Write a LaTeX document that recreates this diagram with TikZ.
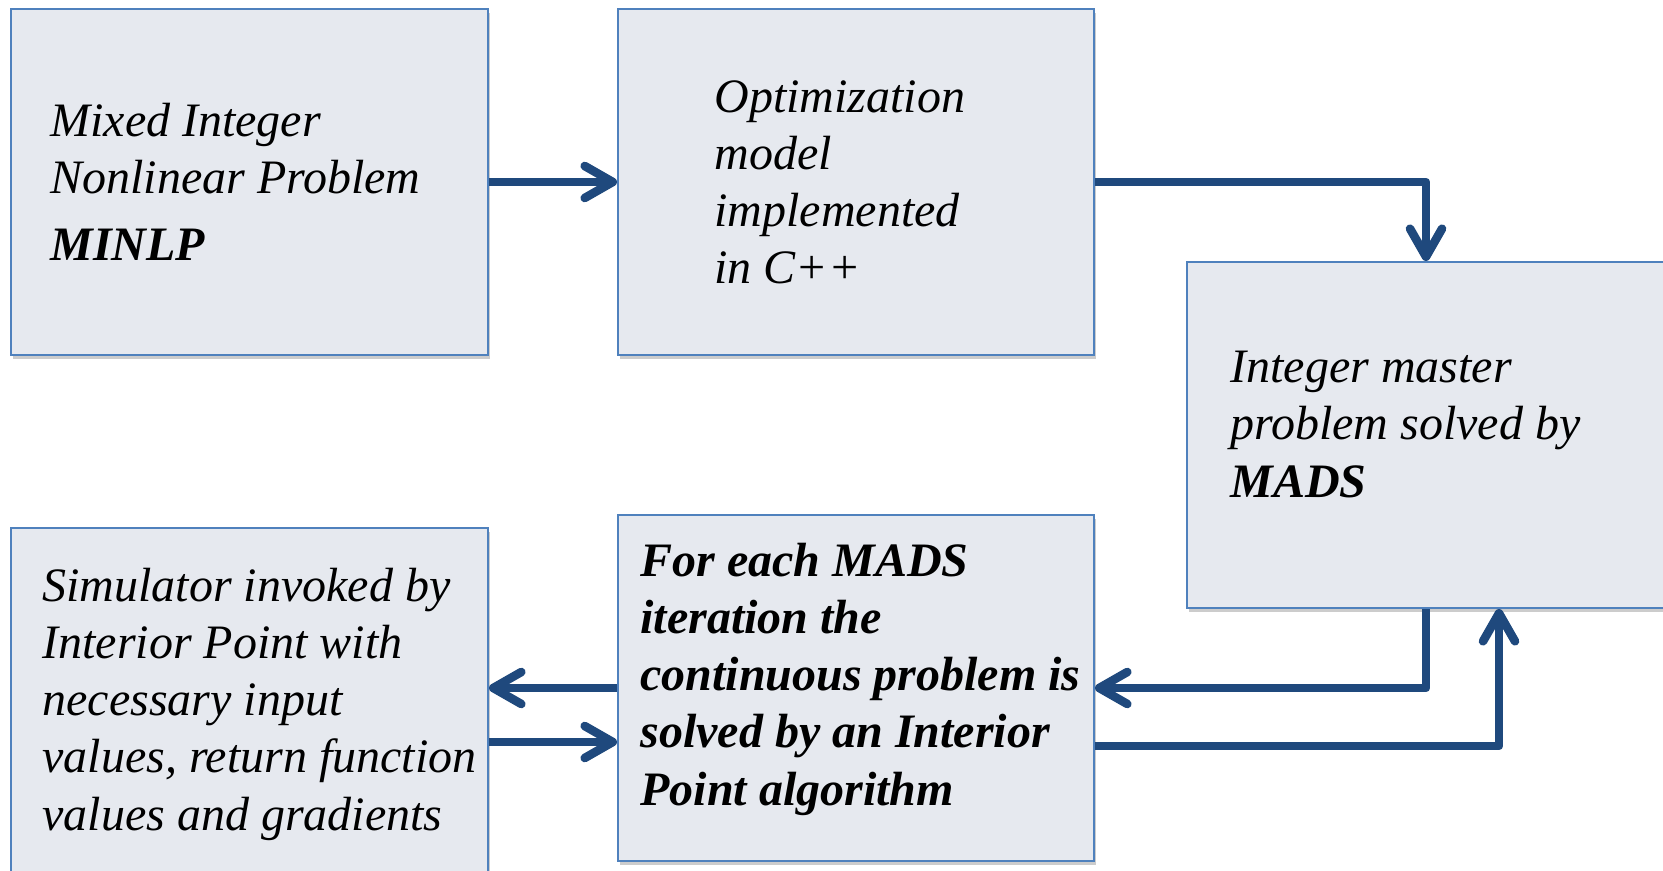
\documentclass[tikz,border=0pt]{standalone}
\usepackage{fontspec}
\setmainfont{Liberation Serif}
\usetikzlibrary{arrows.meta,shadows,calc}
\definecolor{arrowblue}{RGB}{31,73,125}
\definecolor{boxfill}{RGB}{230,233,239}
\definecolor{boxline}{RGB}{79,129,189}
\begin{document}
\begin{tikzpicture}[x=0.5pt,y=-0.5pt,
  box/.style={draw=boxline, line width=1pt, fill=boxfill, inner sep=0pt,
    drop shadow={shadow xshift=1pt, shadow yshift=-2pt, opacity=0.2, fill=black}},
  txt/.style={anchor=base west, align=left, inner sep=0pt,
    font=\fontsize{24}{28.6}\selectfont\itshape},
  flow/.style={draw=arrowblue, line width=4.3pt, line join=round,
    -{Straight Barb[length=14pt,width=16pt,line cap=round,line join=round]}}
]
\useasboundingbox (0,0) rectangle (1663,871);
\fill[white] (0,0) rectangle (1663,871);
% boxes
\node[box, minimum width=238.5pt, minimum height=173pt] (A) at (249.5,182) {};
\node[box, minimum width=238pt, minimum height=173pt] (B) at (856,182) {};
\node[box, minimum width=239pt, minimum height=173pt] (C) at (1426,435) {};
\node[box, minimum width=238.5pt, minimum height=181pt] (D) at (249.5,709) {};
\node[box, minimum width=238pt, minimum height=173pt] (E) at (856,688) {};
% texts (anchored at the baseline of the last line)
\node[txt] (ta) at (50,261) {Mixed Integer\\Nonlinear Problem\\[5pt]\textbf{MINLP}};
\node[txt] (tb) at (714,284) {Optimization\\model\\implemented\\in C++};
\node[txt] (tc) at (1230,497) {Integer master\\problem solved by\\\textbf{MADS}};
\node[txt] (td) at (42,830) {Simulator invoked by\\Interior Point with\\necessary input\\values, return function\\values and gradients};
\node[txt, font=\fontsize{24}{28.6}\selectfont\bfseries\itshape] (te) at (640,805)
  {For each MADS\\iteration the\\continuous problem is\\solved by an Interior\\Point algorithm};
% connectors
\draw[flow] (A.east) -- (B.west);
\draw[flow] (B.east) -| (C.north);
\draw[flow] (C.south) |- (E.east);
\draw[flow] ($(E.east)+(0,58)$) -| ($(C.south)+(73,0)$);
\draw[flow] (E.west) -- ($(D.east)+(0,-21)$);
\draw[flow] ($(D.east)+(0,33)$) -- ($(E.west)+(0,54)$);
\end{tikzpicture}
\end{document}
